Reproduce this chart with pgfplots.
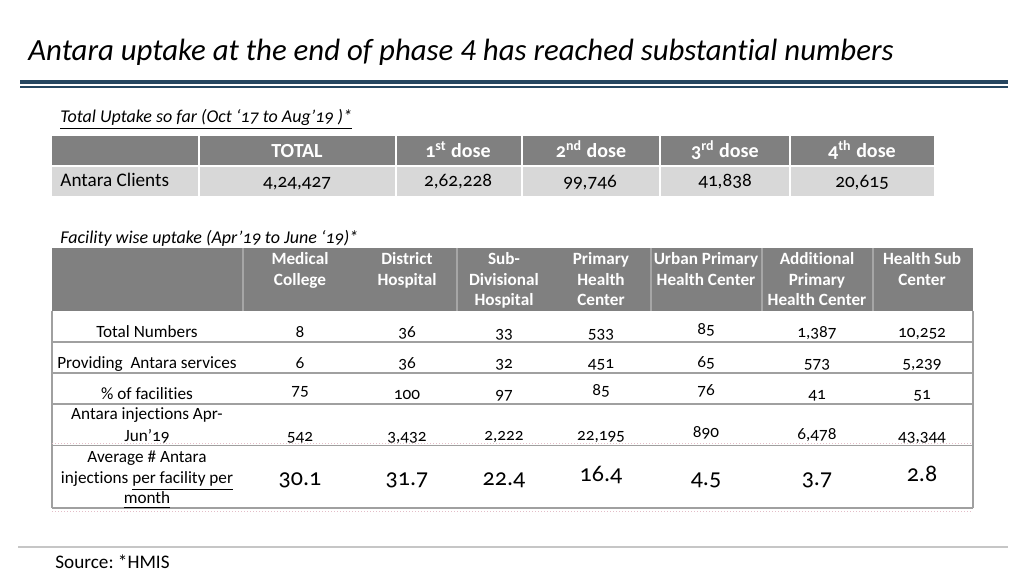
\documentclass[border=0pt]{standalone}
\usepackage{pgfplots}
\pgfplotsset{compat=1.18}
\usepackage{pgfplotstable}
\usepackage{fontspec}
\setmainfont{Carlito}[Numbers=OldStyle,Ligatures=NoCommon]
\newfontfamily\titlefont{Carlito}[Ligatures=NoCommon]
\frenchspacing

\definecolor{navy}{RGB}{38,70,96}
\definecolor{hdr}{RGB}{128,128,128}
\definecolor{rowg}{RGB}{216,216,216}
\definecolor{rulec}{RGB}{160,160,160}
\definecolor{pinkdot}{RGB}{228,190,200}

% total uptake (row of table 1)
\pgfplotstableread{
x y label
297 188 4,24,427
458 187 2,62,228
590 188 99,746
725 187 41,838
862 188 20,615
}\uptake

% facility wise, rows 1-4
\pgfplotstableread{
x y label
300 338 8
407 338 36
504 339 33
601 339 533
706 335 85
817 338 1,387
922 338 10,252
300 369 6
407 369 36
504 369 32
601 369 451
706 368 65
817 369 573
922 369 5,239
300 396 75
407 400 100
504 400 97
601 396 85
706 396 76
817 400 41
922 400 51
300 442 542
407 442 3,432
504 441 2,222
601 441 22,195
706 438 890
817 440 6,478
922 442 43,344
}\facil

% average per facility per month
\pgfplotstableread{
x y label
300 486 30.1
407 486 31.7
504 486 22.4
601 482 16.4
706 486 4.5
817 486 3.7
922 482 2.8
}\avg

\begin{document}
\begin{tikzpicture}
\begin{axis}[width=512pt,height=288pt,scale only axis,
  xmin=0,xmax=1024,ymin=0,ymax=576,y dir=reverse,hide axis,clip=false]
 \path (0,0) rectangle (1024,576);
 % title
 \node[anchor=base west,inner sep=0pt,font=\titlefont\itshape\fontsize{15.4}{18}\selectfont] at (28,61)
  {Antara uptake at the end of phase 4 has reached substantial numbers};
 \fill[navy] (20,80.5) rectangle (1008,84.5);
 \fill[navy] (20,86) rectangle (1008,88);

 % table 1
 \node[anchor=base west,inner sep=0pt,font=\itshape\fontsize{9}{11}\selectfont] at (60,123)
  {\underline{Total Uptake so far (Oct ‘17 to Aug’19 )*}};
 \fill[hdr] (52,136) rectangle (934,165);
 \fill[rowg] (52,167) rectangle (934,196);
 \draw[white,line width=1pt] (199,136)--(199,196) (396,136)--(396,196) (522,136)--(522,196)
  (660,136)--(660,196) (790,136)--(790,196);
 \begin{scope}[every node/.style={anchor=base,inner sep=0pt,text=white,font=\bfseries\fontsize{10}{12}\selectfont}]
 \node at (297,158) {TOTAL};
 \node at (458,158) {1\textsuperscript{st} dose};
 \node at (591,158) {2\textsuperscript{nd} dose};
 \node at (725,158) {3\textsuperscript{rd} dose};
 \node at (862,158) {4\textsuperscript{th} dose};
 \end{scope}
 \node[anchor=base west,inner sep=0pt,font=\fontsize{9.6}{11}\selectfont] at (60,187) {Antara Clients};
 \addplot[draw=none,mark=none,nodes near coords,point meta=explicit symbolic,
  every node near coord/.append style={anchor=base,inner sep=0pt,text=black,font=\fontsize{9.6}{11}\selectfont}]
  table[x=x,y=y,meta=label]{\uptake};

 % table 2
 \node[anchor=base west,inner sep=0pt,font=\itshape\fontsize{9}{11}\selectfont] at (60,244)
  {\underline{Facility wise uptake (Apr’19 to June ‘19)*}};
 \fill[hdr] (52,248) rectangle (973,311);
 \draw[gray!70,line width=0.6pt] (243,248)--(243,311) (457,248)--(457,311) (651,248)--(651,311)
  (762,248)--(762,311) (873,248)--(873,311);
 \begin{scope}[every node/.style={anchor=base,inner sep=0pt,text=white,font=\bfseries\fontsize{8.6}{10}\selectfont}]
 \node at (300,265) {Medical};      \node at (300,286) {College};
 \node at (407,265) {District};     \node at (407,286) {Hospital};
 \node at (504,265) {Sub-};         \node at (504,286) {Divisional};   \node at (504,306) {Hospital};
 \node at (601,265) {Primary};      \node at (601,286) {Health};       \node at (601,306) {Center};
 \node at (706,265) {Urban Primary};\node at (706,286) {Health Center};
 \node at (817,265) {Additional};   \node at (817,286) {Primary};      \node at (817,306) {Health Center};
 \node at (922,265) {Health Sub};   \node at (922,286) {Center};
 \end{scope}
 \draw[rulec,line width=0.8pt] (52,311)--(52,508) (973,311)--(973,508)
  (52,342)--(973,342) (52,373)--(973,373) (52,404)--(973,404) (52,445.5)--(973,445.5) (52,508)--(973,508);
 \draw[pinkdot,densely dotted,line width=0.5pt] (52,444)--(973,444) (52,512)--(973,512);
 \begin{scope}[every node/.style={anchor=base,inner sep=0pt,font=\fontsize{8.6}{10}\selectfont}]
 \node at (147,338) {Total Numbers};
 \node at (147,369) {Providing\ \ Antara services};
 \node at (147,400) {\% of facilities};
 \node at (147,420) {Antara injections Apr-};
 \node at (147,442) {Jun’19};
 \node at (147,463) {Average \# Antara};
 \node at (147,484) {injections \underline{per facility per}};
 \node at (147,504) {\underline{month}};
 \end{scope}
 \addplot[draw=none,mark=none,nodes near coords,point meta=explicit symbolic,
  every node near coord/.append style={anchor=base,inner sep=0pt,text=black,font=\fontsize{8.6}{10}\selectfont}]
  table[x=x,y=y,meta=label]{\facil};
 \addplot[draw=none,mark=none,nodes near coords,point meta=explicit symbolic,
  every node near coord/.append style={anchor=base,inner sep=0pt,text=black,font=\fontsize{12}{14}\selectfont}]
  table[x=x,y=y,meta=label]{\avg};

 % source
 \draw[gray!45,line width=0.6pt] (18,547)--(1008,547);
 \node[anchor=base west,inner sep=0pt,font=\titlefont\fontsize{9.6}{11}\selectfont] at (55,569) {Source: *HMIS};
\end{axis}
\end{tikzpicture}
\end{document}
